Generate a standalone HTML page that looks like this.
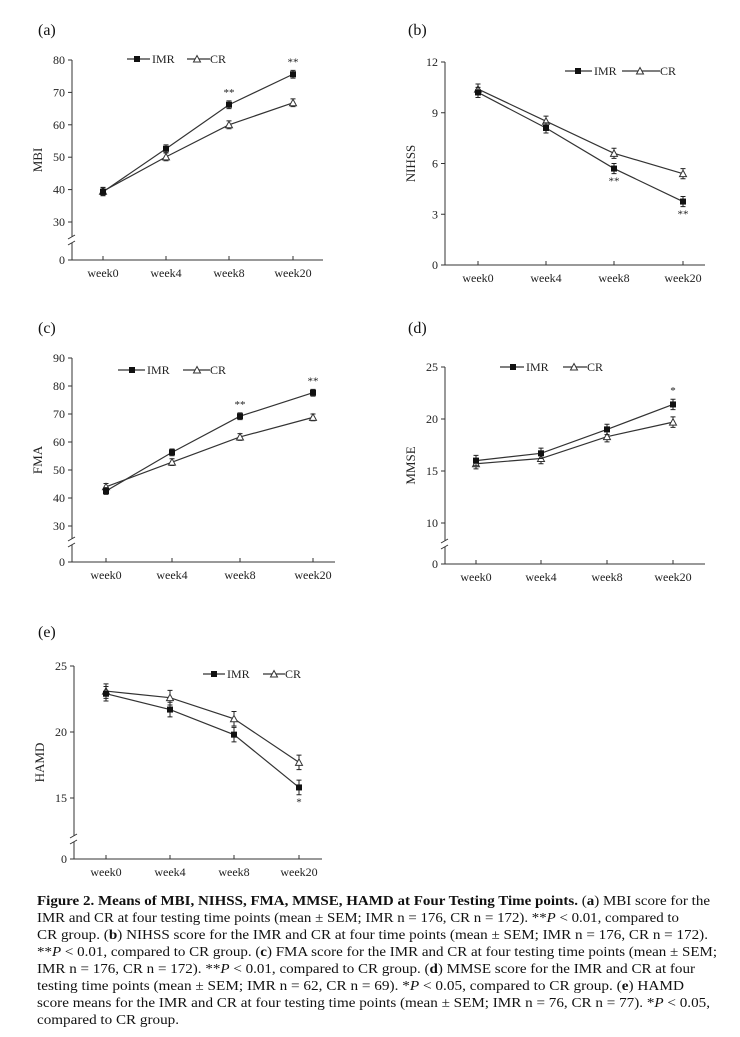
<!DOCTYPE html>
<html><head><meta charset="utf-8"><style>
body{margin:0;background:#fff}
svg{display:block;font-family:"Liberation Serif",serif}
</style></head><body>
<svg id="fig" width="740" height="1037" viewBox="0 0 740 1037">
<g id="charts"></g>
<g font-size="14" fill="#111">
<text x="37" y="905" textLength="673" lengthAdjust="spacingAndGlyphs"><tspan font-weight="bold">Figure 2.  Means of MBI, NIHSS, FMA, MMSE, HAMD at Four Testing Time points.</tspan> (<tspan font-weight="bold">a</tspan>) MBI score for the</text>
<text x="37" y="922" textLength="642" lengthAdjust="spacingAndGlyphs">IMR and CR at four testing time points (mean ± SEM; IMR n = 176, CR n = 172). **<tspan font-style="italic">P</tspan> &lt; 0.01, compared to</text>
<text x="37" y="939" textLength="671" lengthAdjust="spacingAndGlyphs">CR group. (<tspan font-weight="bold">b</tspan>) NIHSS score for the IMR and CR at four time points (mean ± SEM; IMR n = 176, CR n = 172).</text>
<text x="37" y="956" textLength="680" lengthAdjust="spacingAndGlyphs">**<tspan font-style="italic">P</tspan> &lt; 0.01, compared to CR group. (<tspan font-weight="bold">c</tspan>) FMA score for the IMR and CR at four testing time points (mean ± SEM;</text>
<text x="37" y="973" textLength="658" lengthAdjust="spacingAndGlyphs">IMR n = 176, CR n = 172). **<tspan font-style="italic">P</tspan> &lt; 0.01, compared to CR group. (<tspan font-weight="bold">d</tspan>) MMSE score for the IMR and CR at four</text>
<text x="37" y="990" textLength="647" lengthAdjust="spacingAndGlyphs">testing time points (mean ± SEM; IMR n = 62, CR n = 69). *<tspan font-style="italic">P</tspan> &lt; 0.05, compared to CR group. (<tspan font-weight="bold">e</tspan>) HAMD</text>
<text x="37" y="1007" textLength="673" lengthAdjust="spacingAndGlyphs">score means for the IMR and CR at four testing time points (mean ± SEM; IMR n = 76, CR n = 77). *<tspan font-style="italic">P</tspan> &lt; 0.05,</text>
<text x="37" y="1024" textLength="142" lengthAdjust="spacingAndGlyphs">compared to CR group.</text>
</g>
</svg>
<script>
const categories = ["week0","week4","week8","week20"];
const mbiIMR = [39.3, 52.6, 66.2, 75.6];
const mbiCR = [39.5, 50.1, 60.0, 66.8];
const nihssIMR = [10.2, 8.1, 5.7, 3.75];
const nihssCR = [10.4, 8.5, 6.6, 5.4];
const fmaIMR = [42.5, 56.3, 69.2, 77.6];
const fmaCR = [44.0, 52.8, 61.8, 68.8];
const mmseIMR = [16.0, 16.7, 19.0, 21.4];
const mmseCR = [15.7, 16.2, 18.3, 19.7];
const hamdIMR = [22.9, 21.7, 19.8, 15.8];
const hamdCR = [23.1, 22.6, 21.0, 17.7];
const mbiTicks = [30,40,50,60,70,80];
const nihssTicks = [3,6,9,12];
const fmaTicks = [30,40,50,60,70,80,90];
const mmseTicks = [10,15,20,25];
const hamdTicks = [15,20,25];
const mbiStars = ["","","**","**"];
const nihssStars = ["","","**","**"];
const fmaStars = ["","","**","**"];
const mmseStars = ["","","","*"];
const hamdStars = ["","","","*"];

const NS="http://www.w3.org/2000/svg";
const root=document.getElementById('charts');
function mk(tag,attrs,parent){const e=document.createElementNS(NS,tag);for(const k in attrs)e.setAttribute(k,attrs[k]);parent.appendChild(e);return e;}

const panels=[
 {id:'a',label:'(a)',lx:38,ly:35,title:'MBI',ax:72,xs:[103,166,229,293],xe:323,vTop:80,yTop:60,vBot:30,yBot:222,yZero:260,brk:true,ticks:mbiTicks,imr:mbiIMR,cr:mbiCR,err:1.2,stars:mbiStars,starPos:'above',leg:[127,137,153,187,197,210,59]},
 {id:'b',label:'(b)',lx:408,ly:35,title:'NIHSS',ax:445,xs:[478,546,614,683],xe:705,vTop:12,yTop:62,vBot:0,yBot:265,yZero:265,brk:false,ticks:nihssTicks,imr:nihssIMR,cr:nihssCR,err:0.3,stars:nihssStars,starPos:'below',leg:[565,578,595,622,640,660,71]},
 {id:'c',label:'(c)',lx:38,ly:333,title:'FMA',ax:72,xs:[106,172,240,313],xe:335,vTop:90,yTop:358,vBot:30,yBot:526,yZero:562,brk:true,ticks:fmaTicks,imr:fmaIMR,cr:fmaCR,err:1.2,stars:fmaStars,starPos:'above',leg:[118,132,148,183,197,210,370]},
 {id:'d',label:'(d)',lx:408,ly:333,title:'MMSE',ax:445,xs:[476,541,607,673],xe:705,vTop:25,yTop:367,vBot:10,yBot:523,yZero:564,brk:true,ticks:mmseTicks,imr:mmseIMR,cr:mmseCR,err:0.5,stars:mmseStars,starPos:'above',leg:[500,513,527,563,574,587,367]},
 {id:'e',label:'(e)',lx:38,ly:637,title:'HAMD',ax:74,xs:[106,170,234,299],xe:322,vTop:25,yTop:666,vBot:15,yBot:798,yZero:859,brk:true,ticks:hamdTicks,imr:hamdIMR,cr:hamdCR,err:0.55,stars:hamdStars,starPos:'below',leg:[203,214,228,263,274,285,674]}
];

panels.forEach(p=>{
 const g=mk('g',{},root);
 
 
 const Y=v=>p.yBot+(v-p.vBot)*(p.yTop-p.yBot)/(p.vTop-p.vBot);
 const X=i=>p.xs[i];
 const lab=mk('text',{x:p.lx,y:p.ly,'font-size':16,fill:'#111'},g);lab.textContent=p.label;
 
 
 const axis=mk('g',{stroke:'#333','stroke-width':1,fill:'none'},g);
 
 
 if(p.brk){
  const bm=p.yZero-20;
  mk('line',{x1:p.ax,y1:p.yTop,x2:p.ax,y2:bm-3},axis);
  mk('line',{x1:p.ax,y1:bm+3,x2:p.ax,y2:p.yZero},axis);
  mk('line',{x1:p.ax-4,y1:bm-1,x2:p.ax+3,y2:bm-5},axis);
  mk('line',{x1:p.ax-4,y1:bm+5,x2:p.ax+3,y2:bm+1},axis);
 } else mk('line',{x1:p.ax,y1:p.yTop,x2:p.ax,y2:p.yZero},axis);
 mk('line',{x1:p.ax,y1:p.yZero,x2:p.xe,y2:p.yZero},axis);
 const tl=p.ticks.concat(p.ticks.indexOf(0)<0?[0]:[]);
 tl.forEach(v=>{
  const y=(v===0)?p.yZero:Y(v);
  mk('line',{x1:p.ax-4,y1:y,x2:p.ax,y2:y},axis);
  const t=mk('text',{x:p.ax-7,y:y+4,'font-size':12,'text-anchor':'end',fill:'#222',stroke:'none'},g);t.textContent=v;
  
  
 });
 categories.forEach((c,i)=>{
  mk('line',{x1:X(i),y1:p.yZero,x2:X(i),y2:p.yZero-4},axis);
  const t=mk('text',{x:X(i),y:p.yZero+17,'font-size':12,'text-anchor':'middle',fill:'#222'},g);t.textContent=c;
  
  
 });
 const yc=(p.yTop+p.yZero)/2;
 const yt=mk('text',{x:0,y:0,'font-size':13,'text-anchor':'middle',fill:'#222',transform:`translate(${p.ax-30},${yc}) rotate(-90)`},g);yt.textContent=p.title;
 
 
 [['cr',p.cr],['imr',p.imr]].forEach(([nm,arr])=>{
  const sg=mk('g',{},g);
  
  
  mk('polyline',{points:arr.map((v,i)=>X(i)+','+Y(v)).join(' '),fill:'none',stroke:'#333','stroke-width':1.2},sg);
  arr.forEach((v,i)=>{
   const x=X(i),y=Y(v),e=Y(v-p.err)-Y(v);
   const eb=mk('path',{d:`M${x},${y-e}V${y+e}M${x-2.5},${y-e}h5M${x-2.5},${y+e}h5`,stroke:'#222','stroke-width':1,fill:'none'},sg);
   
   
   let m;
   if(nm==='imr') m=mk('rect',{x:x-3,y:y-3,width:6,height:6,fill:'#111'},sg);
   else m=mk('path',{d:`M${x},${y-3.5}L${x+3.5},${y+3}L${x-3.5},${y+3}Z`,fill:'#fff',stroke:'#333','stroke-width':1},sg);
   
   
  });
 });
 p.stars.forEach((s,i)=>{
  if(!s)return;
  const v=p.imr[i];
  const y=p.starPos==='above'?Y(v)-Math.abs(Y(v-p.err)-Y(v))-5:Y(v)+Math.abs(Y(v-p.err)-Y(v))+11;
  const t=mk('text',{x:X(i),y:y,'font-size':11,'text-anchor':'middle',fill:'#222'},g);t.textContent=s;
  
  
 });
 const L=p.leg,lg=mk('g',{},g);
 
 
 mk('line',{x1:L[0],y1:L[6],x2:L[2]-3,y2:L[6],stroke:'#333','stroke-width':1.2},lg);
 mk('rect',{x:L[1]-3,y:L[6]-3,width:6,height:6,fill:'#111'},lg);
 const t1=mk('text',{x:L[2]-1,y:L[6]+4,'font-size':12,fill:'#222'},lg);t1.textContent='IMR';
 mk('line',{x1:L[3],y1:L[6],x2:L[5],y2:L[6],stroke:'#333','stroke-width':1.2},lg);
 mk('path',{d:`M${L[4]},${L[6]-3.5}L${L[4]+3.5},${L[6]+3}L${L[4]-3.5},${L[6]+3}Z`,fill:'#fff',stroke:'#333'},lg);
 const t2=mk('text',{x:L[5],y:L[6]+4,'font-size':12,fill:'#222'},lg);t2.textContent='CR';
});
</script>
</body></html>
